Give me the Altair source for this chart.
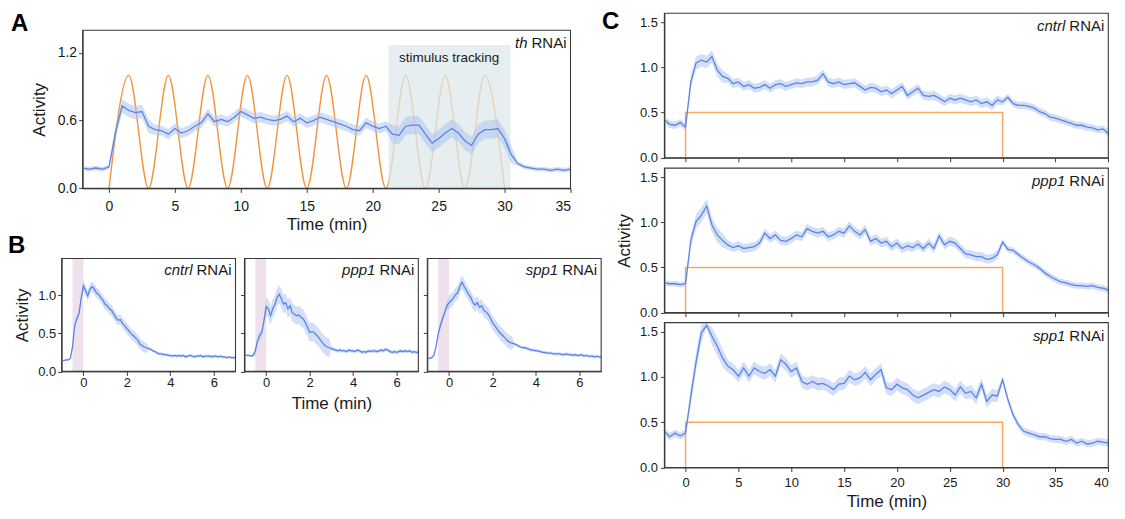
import altair as alt
import pandas as pd

FONT = "Liberation Sans"
BLUE = "#5b84e5"
BAND = "#a8c0f2"
ORANGE_A = "#f0953d"
ORANGE_C = "#f5aa62"
TRACK_COLOR = "#dfe8ea"
PINK = "#eee1ec"
FRAME = "#3a3a3a"
TEXT = "#1a1a1a"

# ---------------- Panel A (th RNAi) ----------------
A_TIME = [round(i * 0.5, 1) for i in range(-4, 71)]  # -2 .. 35 min
A_ACT = [
    0.18, 0.17, 0.18, 0.17, 0.19, 0.50, 0.73, 0.69, 0.67, 0.68,
    0.55, 0.52, 0.51, 0.48, 0.53, 0.49, 0.51, 0.55, 0.58, 0.66,
    0.59, 0.61, 0.59, 0.63, 0.68, 0.65, 0.62, 0.63, 0.61, 0.60,
    0.61, 0.64, 0.59, 0.62, 0.58, 0.60, 0.63, 0.61, 0.59, 0.57,
    0.55, 0.52, 0.51, 0.58, 0.55, 0.53, 0.55, 0.48, 0.47, 0.55,
    0.56, 0.56, 0.48, 0.40, 0.44, 0.49, 0.53, 0.49, 0.42, 0.38,
    0.48, 0.52, 0.52, 0.53, 0.44, 0.30, 0.22, 0.19, 0.18, 0.17,
    0.17, 0.16, 0.17, 0.16, 0.17,
]
A_SEM = [0.02] * 5 + [0.06] * 6 + [0.045] * 36 + [0.08] * 19 + [0.02] * 9
STIM_A_T = [0, 1.5, 3, 4.5, 6, 7.5, 9, 10.5, 12, 13.5, 15, 16.5, 18, 19.5, 21,
            22.5, 24, 25.5, 27, 28.5, 30]
STIM_A_V = [0, 1, 0, 1, 0, 1, 0, 1, 0, 1, 0, 1, 0, 1, 0, 1, 0, 1, 0, 1, 0]
TRACK_START, TRACK_END, TRACK_TOP = 21.2, 30.45, 1.27
TRACK_LABEL = "stimulus tracking"
TRACK_LABEL_T, TRACK_LABEL_V = 25.8, 1.12
A_XTICKS = [0, 5, 10, 15, 20, 25, 30, 35]
A_YTICKS = [0, 0.6, 1.2]

# ---------------- Panel B (short pulse) ----------------
B_TIME = [round(i * 0.1, 1) for i in range(-10, 71)]  # -1 .. 7 min
B_CNTRL = [
    0.14, 0.14, 0.15, 0.15, 0.17, 0.32, 0.60, 0.69, 0.76, 0.96,
    1.12, 1.06, 0.99, 1.08, 1.11, 1.08, 1.03, 1.01, 0.97, 0.93,
    0.88, 0.86, 0.82, 0.80, 0.75, 0.70, 0.67, 0.68, 0.63, 0.60,
    0.56, 0.53, 0.49, 0.47, 0.44, 0.41, 0.36, 0.34, 0.32, 0.31,
    0.30, 0.29, 0.27, 0.26, 0.24, 0.23, 0.23, 0.22, 0.22, 0.21,
    0.21, 0.20, 0.21, 0.20, 0.21, 0.20, 0.21, 0.19, 0.20, 0.21,
    0.20, 0.19, 0.20, 0.20, 0.21, 0.19, 0.20, 0.20, 0.20, 0.19,
    0.20, 0.20, 0.19, 0.20, 0.19, 0.19, 0.18, 0.19, 0.18, 0.18,
    0.18,
]
B_PPP1 = [
    0.21, 0.21, 0.21, 0.20, 0.21, 0.27, 0.40, 0.47, 0.51, 0.67,
    0.85, 0.82, 0.73, 0.82, 0.88, 0.97, 1.01, 0.95, 0.88, 0.90,
    0.82, 0.86, 0.77, 0.75, 0.73, 0.74, 0.71, 0.69, 0.64, 0.58,
    0.51, 0.52, 0.51, 0.48, 0.45, 0.41, 0.37, 0.34, 0.32, 0.31,
    0.30, 0.29, 0.28, 0.27, 0.28, 0.27, 0.27, 0.26, 0.28, 0.27,
    0.27, 0.26, 0.28, 0.27, 0.25, 0.26, 0.25, 0.27, 0.26, 0.27,
    0.27, 0.26, 0.27, 0.28, 0.27, 0.29, 0.28, 0.26, 0.25, 0.26,
    0.25, 0.26, 0.27, 0.26, 0.27, 0.26, 0.27, 0.25, 0.26, 0.25,
    0.25,
]
B_SPP1 = [
    0.17, 0.17, 0.18, 0.21, 0.32, 0.49, 0.60, 0.69, 0.77, 0.86,
    0.90, 0.93, 0.96, 1.01, 1.03, 1.12, 1.17, 1.11, 1.06, 1.01,
    0.97, 0.90, 0.87, 0.90, 0.84, 0.86, 0.80, 0.78, 0.75, 0.70,
    0.64, 0.60, 0.56, 0.52, 0.49, 0.46, 0.43, 0.40, 0.38, 0.37,
    0.36, 0.35, 0.33, 0.32, 0.31, 0.31, 0.30, 0.29, 0.28, 0.28,
    0.27, 0.27, 0.26, 0.25, 0.25, 0.24, 0.24, 0.24, 0.23, 0.23,
    0.23, 0.23, 0.22, 0.22, 0.23, 0.22, 0.22, 0.21, 0.22, 0.21,
    0.21, 0.22, 0.20, 0.21, 0.20, 0.20, 0.20, 0.19, 0.20, 0.19,
    0.19,
]
B_SEM_CNTRL = [0.015] * 5 + [0.04] * 5 + [0.07] * 30 + [0.02] * 41
B_SEM_PPP1 = [0.015] * 5 + [0.06] * 5 + [0.12] * 30 + [0.025] * 41
B_SEM_SPP1 = [0.015] * 5 + [0.05] * 5 + [0.09] * 30 + [0.02] * 41
PINK_START, PINK_END = -0.5, 0.0
B_XTICKS = [0, 2, 4, 6]
B_YTICKS = [0, 0.5, 1.0]

# ---------------- Panel C (30 min step) ----------------
C_TIME = [round(i * 0.5, 1) for i in range(-4, 81)]  # -2 .. 40 min
C_CNTRL = [
    0.42, 0.37, 0.36, 0.39, 0.34, 0.84, 1.05, 1.08, 1.06, 1.12,
    0.97, 0.90, 0.88, 0.82, 0.84, 0.79, 0.81, 0.77, 0.78, 0.81,
    0.77, 0.81, 0.82, 0.79, 0.81, 0.83, 0.82, 0.84, 0.84, 0.86,
    0.93, 0.84, 0.82, 0.84, 0.81, 0.82, 0.83, 0.79, 0.75, 0.78,
    0.77, 0.73, 0.75, 0.71, 0.75, 0.79, 0.69, 0.73, 0.77, 0.69,
    0.68, 0.69, 0.66, 0.62, 0.66, 0.64, 0.66, 0.64, 0.62, 0.64,
    0.60, 0.62, 0.58, 0.64, 0.62, 0.67, 0.60, 0.58, 0.58, 0.57,
    0.55, 0.51, 0.49, 0.45, 0.44, 0.42, 0.40, 0.38, 0.36, 0.36,
    0.34, 0.33, 0.31, 0.32, 0.27,
]
C_PPP1 = [
    0.33, 0.32, 0.32, 0.31, 0.32, 0.80, 1.01, 1.08, 1.18, 0.97,
    0.86, 0.80, 0.75, 0.72, 0.74, 0.71, 0.72, 0.73, 0.77, 0.88,
    0.82, 0.86, 0.80, 0.79, 0.82, 0.86, 0.84, 0.93, 0.90, 0.88,
    0.90, 0.84, 0.86, 0.90, 0.88, 0.96, 0.90, 0.86, 0.92, 0.79,
    0.82, 0.77, 0.79, 0.73, 0.77, 0.71, 0.74, 0.72, 0.76, 0.71,
    0.77, 0.71, 0.85, 0.75, 0.79, 0.77, 0.71, 0.65, 0.64, 0.62,
    0.62, 0.59, 0.60, 0.64, 0.78, 0.70, 0.69, 0.64, 0.60, 0.56,
    0.53, 0.49, 0.44, 0.40, 0.37, 0.34, 0.33, 0.31, 0.30, 0.30,
    0.29, 0.30, 0.28, 0.27, 0.25,
]
C_SPP1 = [
    0.40, 0.34, 0.38, 0.35, 0.38, 0.79, 1.17, 1.49, 1.57, 1.45,
    1.34, 1.21, 1.12, 1.08, 1.01, 1.10, 1.01, 1.10, 1.06, 1.04,
    1.08, 1.01, 1.19, 1.14, 1.06, 1.10, 0.95, 0.92, 0.95, 0.92,
    0.93, 0.90, 0.86, 0.92, 0.93, 1.01, 0.97, 0.99, 1.05, 0.97,
    1.03, 1.08, 0.88, 0.86, 0.92, 0.88, 0.86, 0.80, 0.77, 0.80,
    0.83, 0.86, 0.84, 0.89, 0.86, 0.80, 0.89, 0.82, 0.84, 0.77,
    0.92, 0.73, 0.80, 0.79, 0.97, 0.75, 0.58, 0.47, 0.40, 0.38,
    0.36, 0.34, 0.34, 0.32, 0.31, 0.31, 0.29, 0.31, 0.27, 0.29,
    0.26, 0.27, 0.29, 0.28, 0.27,
]
C_SEM_CNTRL = [0.04] * 5 + [0.07] * 7 + [0.05] * 52 + [0.04] * 21
C_SEM_PPP1 = [0.03] * 5 + [0.08] * 7 + [0.05] * 52 + [0.035] * 21
C_SEM_SPP1 = [0.04] * 5 + [0.10, 0.10, 0.10, 0.03, 0.10, 0.10, 0.10] + [0.07] * 52 + [0.04] * 21
STIM_C_T = [0, 0, 30, 30]
STIM_C_V = [0, 0.5, 0.5, 0]
C_XTICKS = [0, 5, 10, 15, 20, 25, 30, 35, 40]
C_YTICKS = [0, 0.5, 1.0, 1.5]

# ---------------- one shared canvas; each panel gets its own pixel ranges ----------------
W_TOTAL, H_TOTAL = 1110, 503
A_XR, A_YR = [74.7, 563.0], [180.3, 22.0]
B_XR = [[53.7, 227.7], [236.7, 410.7], [419.7, 593.7]]
B_YR = [363.5, 250.5]
C_XR = [657.0, 1101.3]
C_YR = [[149.7, 5.0], [304.7, 160.0], [459.7, 314.7]]


def scales(xdom, xr, ydom, yr):
    return (alt.Scale(domain=xdom, range=xr, nice=False, zero=False),
            alt.Scale(domain=ydom, range=yr, nice=False, zero=False))


def trace_df(ts, vs, sems):
    return pd.DataFrame({
        "t": ts, "v": vs,
        "lo": [v - s for v, s in zip(vs, sems)],
        "hi": [v + s for v, s in zip(vs, sems)],
    })


def trace_layers(df, X, Y):
    band = alt.Chart(df).mark_area(color=BAND, opacity=0.5).encode(
        x=X("t:Q"), y=Y("lo:Q"), y2="hi:Q")
    line = alt.Chart(df).mark_line(color=BLUE, strokeWidth=1.3).encode(
        x=X("t:Q"), y=Y("v:Q"))
    return [band, line]


def rna_label(gene, xpos, ypos, dy, X, Y):
    df = pd.DataFrame({"x": [xpos], "y": [ypos], "gene": [gene], "rna": ["RNAi"]})
    g = alt.Chart(df).mark_text(font=FONT, fontSize=15, fontStyle="italic", align="right",
                                baseline="alphabetic", color=TEXT, dx=-43, dy=dy).encode(
        x=X("x:Q"), y=Y("y:Q"), text="gene:N")
    r = alt.Chart(df).mark_text(font=FONT, fontSize=15, align="right",
                                baseline="alphabetic", color=TEXT, dx=-4, dy=dy).encode(
        x=X("x:Q"), y=Y("y:Q"), text="rna:N")
    return [g, r]


def letter(ch, xpos, ypos, dx, dy, X, Y):
    df = pd.DataFrame({"x": [xpos], "y": [ypos], "c": [ch]})
    return alt.Chart(df).mark_text(
        font=FONT, fontSize=24, fontWeight="bold", align="left", baseline="alphabetic",
        color="#000000", dx=dx, dy=dy).encode(x=X("x:Q"), y=Y("y:Q"), text="c:N")


def frame(xdom, ydom, X, Y):
    df = pd.DataFrame({"x0": [xdom[0]], "x1": [xdom[1]], "y0": [ydom[0]], "y1": [ydom[1]]})
    return alt.Chart(df).mark_rect(fillOpacity=0, stroke=FRAME, strokeWidth=1.1).encode(
        x=X("x0:Q"), x2="x1:Q", y=Y("y0:Q"), y2="y1:Q")


def encoders(xs, ys, axx, axy):
    def X(f):
        return alt.X(f, scale=xs, axis=axx)

    def Y(f):
        return alt.Y(f, scale=ys, axis=axy)
    return X, Y


# ---------------- panel A ----------------
A_XDOM, A_YDOM = [-2, 35], [0, 1.4]
xsA, ysA = scales(A_XDOM, A_XR, A_YDOM, A_YR)
axAx = alt.Axis(orient="bottom", offset=-(H_TOTAL - A_YR[0]), values=A_XTICKS, format="d",
                title="Time (min)", tickSize=4, labelPadding=7, labelFontSize=14,
                titleFontSize=17, titlePadding=3)
axAy = alt.Axis(orient="left", offset=-A_XR[0], values=A_YTICKS, format=".1f",
                title="Activity", tickSize=4, labelPadding=2, labelFontSize=14,
                titleFontSize=17, titlePadding=9)
XA, YA = encoders(xsA, ysA, axAx, axAy)

stimA = alt.Chart(pd.DataFrame({"t": STIM_A_T, "v": STIM_A_V})).mark_line(
    color=ORANGE_A, strokeWidth=1.4, interpolate="monotone").encode(x=XA("t:Q"), y=YA("v:Q"))
trackA = alt.Chart(pd.DataFrame({"start": [TRACK_START], "end": [TRACK_END],
                                 "bottom": [0.0], "top": [TRACK_TOP]})).mark_rect(
    color=TRACK_COLOR, opacity=0.75).encode(
    x=XA("start:Q"), x2="end:Q", y=YA("bottom:Q"), y2="top:Q")
trackText = alt.Chart(pd.DataFrame({"t": [TRACK_LABEL_T], "v": [TRACK_LABEL_V],
                                    "label": [TRACK_LABEL]})).mark_text(
    font=FONT, fontSize=13.5, color=TEXT, baseline="alphabetic").encode(
    x=XA("t:Q"), y=YA("v:Q"), text="label:N")

panelA = alt.layer(
    stimA, trackA, trackText,
    *trace_layers(trace_df(A_TIME, A_ACT, A_SEM), XA, YA),
    *rna_label("th", A_XDOM[1], A_YDOM[1], 18, XA, YA),
    letter("A", A_XDOM[0], A_YDOM[1], -71.7, 1, XA, YA),
    frame(A_XDOM, A_YDOM, XA, YA),
)

# ---------------- panel B ----------------
B_XDOM, B_YDOM = [-1, 7], [0, 1.48]


def panel_b(vs, sems, gene, idx):
    xs, ys = scales(B_XDOM, B_XR[idx], B_YDOM, B_YR)
    axx = alt.Axis(orient="bottom", offset=-(H_TOTAL - B_YR[0]), values=B_XTICKS, format="d",
                   tickSize=4, labelPadding=1, labelFontSize=13, titleFontSize=17,
                   titlePadding=6, title=("Time (min)" if idx == 1 else None))
    axy = alt.Axis(orient="left", offset=-B_XR[idx][0], values=B_YTICKS, format=".1f",
                   tickSize=4, labelPadding=2, labelFontSize=13, titleFontSize=17,
                   titlePadding=6, labels=(idx == 0),
                   title=("Activity" if idx == 0 else None))
    X, Y = encoders(xs, ys, axx, axy)
    pink = alt.Chart(pd.DataFrame({"start": [PINK_START], "end": [PINK_END],
                                   "bottom": [B_YDOM[0]], "top": [B_YDOM[1]]})).mark_rect(
        color=PINK).encode(x=X("start:Q"), x2="end:Q", y=Y("bottom:Q"), y2="top:Q")
    layers = ([pink] + trace_layers(trace_df(B_TIME, vs, sems), X, Y)
              + rna_label(gene, B_XDOM[1], B_YDOM[1], 17, X, Y))
    if idx == 0:
        layers.append(letter("B", B_XDOM[0], B_YDOM[1], -53.7, -5.5, X, Y))
    layers.append(frame(B_XDOM, B_YDOM, X, Y))
    return alt.layer(*layers)


B1 = panel_b(B_CNTRL, B_SEM_CNTRL, "cntrl", 0)
B2 = panel_b(B_PPP1, B_SEM_PPP1, "ppp1", 1)
B3 = panel_b(B_SPP1, B_SEM_SPP1, "spp1", 2)

# ---------------- panel C ----------------
C_XDOM, C_YDOM = [-2, 40], [0, 1.6]


def panel_c(vs, sems, gene, idx):
    xs, ys = scales(C_XDOM, C_XR, C_YDOM, C_YR[idx])
    axx = alt.Axis(orient="bottom", offset=-(H_TOTAL - C_YR[idx][0]), values=C_XTICKS,
                   format="d", tickSize=4, labelPadding=5, labelFontSize=13,
                   titleFontSize=17, titlePadding=4, labels=(idx == 2),
                   title=("Time (min)" if idx == 2 else None))
    axy = alt.Axis(orient="left", offset=-C_XR[0], values=C_YTICKS, format=".1f",
                   tickSize=4, labelPadding=3, labelFontSize=13, titleFontSize=17,
                   titlePadding=6, title=("Activity" if idx == 1 else None))
    X, Y = encoders(xs, ys, axx, axy)
    stim = alt.Chart(pd.DataFrame({"t": STIM_C_T, "v": STIM_C_V, "i": [0, 1, 2, 3]})).mark_line(
        color=ORANGE_C, strokeWidth=1.5).encode(x=X("t:Q"), y=Y("v:Q"), order="i:Q")
    layers = ([stim] + trace_layers(trace_df(C_TIME, vs, sems), X, Y)
              + rna_label(gene, C_XDOM[1], C_YDOM[1], 18, X, Y))
    if idx == 0:
        layers.append(letter("C", C_XDOM[0], C_YDOM[1], -62.5, 16, X, Y))
    layers.append(frame(C_XDOM, C_YDOM, X, Y))
    return alt.layer(*layers)


C1 = panel_c(C_CNTRL, C_SEM_CNTRL, "cntrl", 0)
C2 = panel_c(C_PPP1, C_SEM_PPP1, "ppp1", 1)
C3 = panel_c(C_SPP1, C_SEM_SPP1, "spp1", 2)

# ---------------- assemble ----------------
chart = alt.layer(panelA, B1, B2, B3, C1, C2, C3).resolve_scale(
    x="independent", y="independent"
).resolve_axis(
    x="independent", y="independent"
).properties(
    width=W_TOTAL, height=H_TOTAL,
    padding={"left": 0, "top": 0, "right": 0, "bottom": 0}
).configure_view(
    strokeOpacity=0
).configure_axis(
    grid=False, domainColor=FRAME, tickColor=FRAME, domainWidth=1, tickWidth=1,
    labelColor=TEXT, titleColor=TEXT, labelFont=FONT, titleFont=FONT,
    titleFontWeight="normal"
)

chart.save("out.html", embed_options={"renderer": "svg", "actions": False})
